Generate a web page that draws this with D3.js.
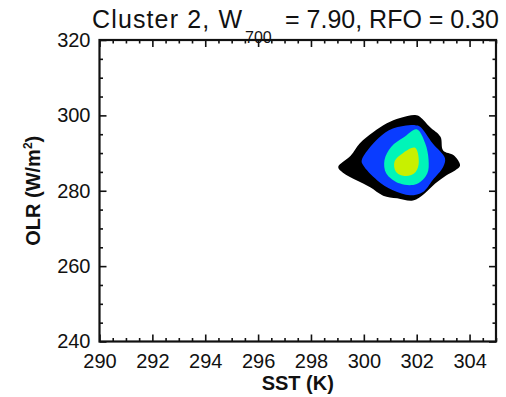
<!DOCTYPE html>
<html>
<head>
<meta charset="utf-8">
<script src="https://cdn.jsdelivr.net/npm/d3@7"></script>
<style>
  body { margin: 0; background: #fff; }
  svg { display: block; font-family: "Liberation Sans", Arial, sans-serif; }
</style>
</head>
<body>
<svg id="chart" width="506" height="397"></svg>
<script>
// axis ranges and ticks
let sstDomain = [290, 305];
let olrDomain = [240, 320];
let sstMajor = [290, 292, 294, 296, 298, 300, 302, 304];
let olrMajor = [240, 260, 280, 300, 320];

// contour outlines, [SST, OLR]
let level1 = [[299.03,286.3],[299.5,289.3],[299.85,292.6],[300.35,295.5],[300.87,297.9],[301.37,299.3],
              [301.94,300.1],[302.13,299.6],[302.5,296.9],[302.9,294.3],[303.0,290.7],[303.4,289.4],
              [303.64,286.7],[303.45,285.4],[303.1,284.0],[302.7,281.9],[302.3,279.3],[301.86,277.4],
              [301.26,278.0],[300.73,278.7],[300.24,280.9],[299.74,282.7],[299.21,284.8]];
let level2 = [[299.92,288.1],[300.55,293.9],[301.1,296.5],[301.94,297.4],[302.13,297.0],[302.6,292.6],
              [303.07,288.6],[303.0,286.3],[302.6,282.8],[302.24,279.7],[301.75,278.8],[301.1,280.1],
              [300.5,282.8],[299.97,286.8]];
let level3 = [[302.0,296.3],[302.32,292.6],[302.45,288.1],[302.4,284.6],[302.0,281.8],[301.37,281.9],
              [300.85,284.6],[300.78,288.1],[301.04,291.7],[301.5,294.1]];
let level4 = [[301.94,291.4],[302.08,287.7],[301.96,285.0],[301.6,283.9],[301.22,285.0],[301.16,287.7],
              [301.5,290.1]];

let levels = [level1, level2, level3, level4];
let levelColors = ["#000000", "#0a3cff", "#00f5b8", "#c8f000"];

let svg = d3.select("#chart");
let pLeft = 99.5, pRight = 496, pTop = 40, pBottom = 341.5;

let x = d3.scaleLinear().domain(sstDomain).range([pLeft, pRight]);
let y = d3.scaleLinear().domain(olrDomain).range([pBottom, pTop]);

// title (drawn first, frame line passes over the subscript)
let title = svg.append("text").attr("font-size", 25).attr("fill", "#111");
title.append("tspan").attr("x", 92).attr("y", 28)
    .attr("textLength", 150).attr("lengthAdjust", "spacing")
    .text("Cluster 2, W");
title.append("tspan").attr("x", 245).attr("y", 43).attr("font-size", 16).text("700");
title.append("tspan").attr("x", 285).attr("y", 28).text("= 7.90, RFO = 0.30");

svg.append("clipPath").attr("id", "clip")
    .append("rect").attr("x", pLeft).attr("y", pTop)
    .attr("width", pRight - pLeft).attr("height", pBottom - pTop);

let line = d3.line()
    .x(d => x(d[0]))
    .y(d => y(d[1]))
    .curve(d3.curveCatmullRomClosed.alpha(0.5));

svg.append("g").attr("clip-path", "url(#clip)")
    .selectAll("path")
    .data(levels)
    .enter()
    .append("path")
    .attr("d", line)
    .attr("fill", (d, i) => levelColors[i]);

// ticks on all four sides, pointing inward
let sstMinor = d3.range(290, 305.01, 0.5).filter(v => !sstMajor.includes(v));
let olrMinor = d3.range(240, 320.01, 5).filter(v => !olrMajor.includes(v));

function addAxis(axisFn, scale, major, minor, tx, ty, labels) {
    let gMaj = svg.append("g").attr("transform", `translate(${tx},${ty})`)
        .call(axisFn(scale).tickValues(major).tickSize(-7).tickPadding(9)
            .tickFormat(labels ? d3.format("d") : ""));
    let gMin = svg.append("g").attr("transform", `translate(${tx},${ty})`)
        .call(axisFn(scale).tickValues(minor).tickSize(-3.5).tickFormat(""));
    [gMaj, gMin].forEach(g => {
        g.select(".domain").remove();
        g.selectAll("line").attr("stroke", "#111").attr("stroke-width", 1.6);
    });
    gMaj.selectAll("text").attr("font-size", 20).attr("fill", "#111")
        .attr("font-family", "'Liberation Sans', Arial, sans-serif");
    return gMaj;
}

let gx = addAxis(d3.axisBottom, x, sstMajor, sstMinor, 0, pBottom, true);
gx.selectAll("text").attr("y", 26).attr("dy", null);
addAxis(d3.axisTop, x, sstMajor, sstMinor, 0, pTop, false);
addAxis(d3.axisLeft, y, olrMajor, olrMinor, pLeft, 0, true);
addAxis(d3.axisRight, y, olrMajor, olrMinor, pRight, 0, false);

svg.append("rect")
    .attr("x", pLeft).attr("y", pTop)
    .attr("width", pRight - pLeft).attr("height", pBottom - pTop)
    .attr("fill", "none").attr("stroke", "#111").attr("stroke-width", 2.2);

// axis titles
svg.append("text")
    .attr("x", (pLeft + pRight) / 2).attr("y", 390)
    .attr("text-anchor", "middle").attr("font-size", 20).attr("font-weight", "bold")
    .attr("fill", "#111")
    .text("SST (K)");

let ylab = svg.append("text")
    .attr("transform", `translate(40,${(pTop + pBottom) / 2}) rotate(-90)`)
    .attr("text-anchor", "middle").attr("font-size", 20).attr("font-weight", "bold")
    .attr("fill", "#111");
ylab.append("tspan").text("OLR (W/m");
ylab.append("tspan").attr("font-size", 12).attr("dy", -8).text("2");
ylab.append("tspan").attr("dy", 8).text(")");
</script>
</body>
</html>
